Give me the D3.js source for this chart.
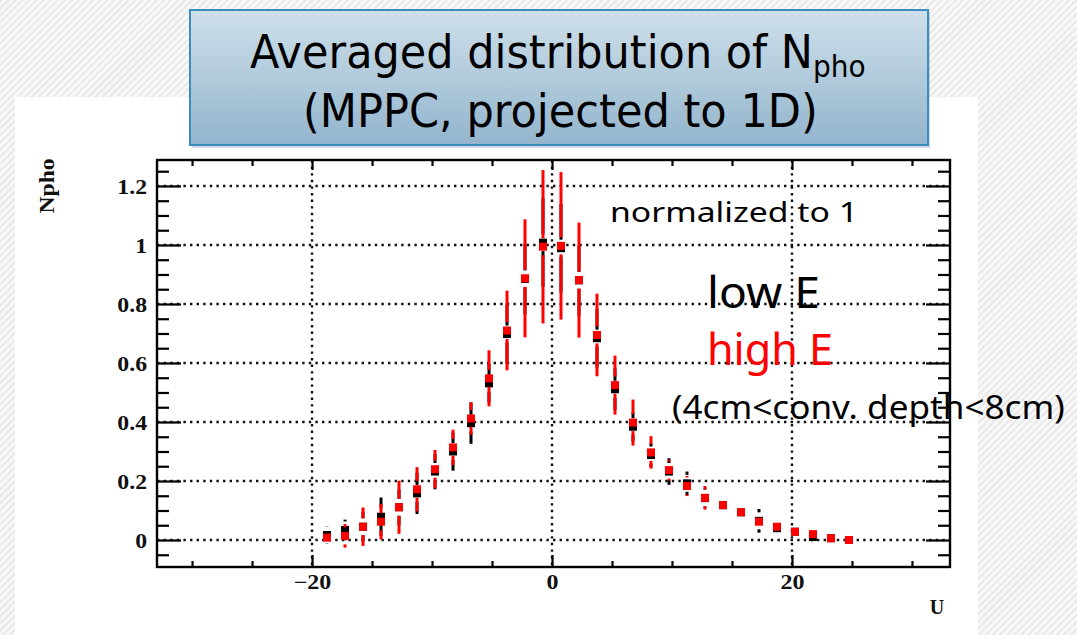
<!DOCTYPE html>
<html><head><meta charset="utf-8">
<script src="https://cdn.jsdelivr.net/npm/d3@7"></script>
<style>html,body{margin:0;padding:0;background:#fff;overflow:hidden}svg{display:block}</style>
</head><body>
<svg id="chart" width="1077" height="635"></svg>
<script>
// ---------- data ----------
const binCenters = [-18.75,-17.25,-15.75,-14.25,-12.75,-11.25,-9.75,-8.25,-6.75,-5.25,-3.75,-2.25,-0.75,0.75,2.25,3.75,5.25,6.75,8.25,9.75,11.25,12.75,14.25,15.75,17.25,18.75,20.25,21.75,23.25,24.75];
const lowE     = [0.017,0.034,0.045,0.079,0.111,0.158,0.232,0.300,0.396,0.531,0.698,0.885,1.008,0.989,0.880,0.684,0.511,0.384,0.288,0.232,0.192,0.142,0.118,0.094,0.065,0.040,0.028,0.010,0.006,0.000];
const lowEErr  = [0.030,0.035,0.050,0.065,0.060,0.070,0.060,0.065,0.070,0.065,0.100,0.120,0.150,0.150,0.120,0.100,0.070,0.050,0.040,0.045,0.040,0.033,0.010,0.010,0.040,0.026,0.010,0.010,0.005,0.005];
const highE    = [0.008,0.014,0.045,0.062,0.111,0.172,0.240,0.314,0.412,0.548,0.710,0.887,0.994,0.997,0.881,0.695,0.525,0.398,0.297,0.237,0.183,0.143,0.118,0.094,0.062,0.045,0.028,0.020,0.006,0.000];
const highEErr = [0.015,0.040,0.065,0.060,0.090,0.075,0.065,0.060,0.055,0.095,0.135,0.200,0.260,0.250,0.195,0.140,0.100,0.078,0.055,0.035,0.034,0.040,0.010,0.010,0.010,0.010,0.010,0.010,0.005,0.005];
const xMajorTicks = [-20, 0, 20];
const xTickLabels = ["\u221220", "0", "20"];
const xMinorTicks = [-30,-25,-15,-10,-5,5,10,15,25,30];
const yMajorTicks = [0, 0.2, 0.4, 0.6, 0.8, 1, 1.2];
const yTickLabels = ["0", "0.2", "0.4", "0.6", "0.8", "1", "1.2"];
const yMinorTicks = [-0.05,0.05,0.1,0.15,0.25,0.3,0.35,0.45,0.5,0.55,0.65,0.7,0.75,0.85,0.9,0.95,1.05,1.1,1.15,1.25];
const xDomain = [-32.92, 33.17];
const yDomain = [-0.0915, 1.288];
const titleLine1 = "Averaged distribution of N";
const titleSub = "pho";
const titleLine2 = "(MPPC, projected to 1D)";
const xAxisTitle = "U";
const yAxisTitle = "Npho";
const notes = ["normalized to 1", "low E", "high E", "(4cm<conv. depth<8cm)"];

// ---------- layout ----------
const svg = d3.select("#chart");
const P = {left:157, right:950, top:160, bottom:567};
const x = d3.scaleLinear().domain(xDomain).range([P.left, P.right]);
const y = d3.scaleLinear().domain(yDomain).range([P.bottom, P.top]);

// fit text horizontally to a target width
function fitWidth(sel, x0, w) {
  const bw = sel.node().getBBox().width;
  const s = w / bw;
  sel.attr("transform", `translate(${x0},0) scale(${s},1) translate(${-x0},0)`);
}

// background hatch
const defs = svg.append("defs");
const pat = defs.append("pattern").attr("id","hatch").attr("patternUnits","userSpaceOnUse")
  .attr("width",5).attr("height",5).attr("patternTransform","rotate(45)");
pat.append("rect").attr("width",5).attr("height",5).attr("fill","#f8f8f8");
pat.append("line").attr("x1",1).attr("y1",0).attr("x2",1).attr("y2",5).attr("stroke","#e3e3e3").attr("stroke-width",1.5);
svg.append("rect").attr("width",1077).attr("height",635).attr("fill","url(#hatch)");

// white panel
svg.append("rect").attr("x",15).attr("y",97).attr("width",963).attr("height",540).attr("fill","#fff");

// title box
const grad = defs.append("linearGradient").attr("id","tg").attr("x1",0).attr("y1",0).attr("x2",0).attr("y2",1);
grad.append("stop").attr("offset","0%").attr("stop-color","#cfe0ea");
grad.append("stop").attr("offset","100%").attr("stop-color","#93b5cd");
svg.append("rect").attr("x",192).attr("y",12).attr("width",738).attr("height",136).attr("fill","#6a8ea8").attr("opacity",0.3);
svg.append("rect").attr("x",190).attr("y",10).attr("width",738).attr("height",135)
  .attr("fill","url(#tg)").attr("stroke","#3a8dbf").attr("stroke-width",2);
const tfont = "'DejaVu Sans Condensed','DejaVu Sans',sans-serif";
const t1 = svg.append("text").attr("x",250).attr("y",68)
  .attr("font-family",tfont).attr("font-size",46).attr("fill","#000");
t1.append("tspan").text(titleLine1);
t1.append("tspan").attr("font-size",30).attr("dy",9).text(titleSub);
fitWidth(t1, 250, 616);
const t2 = svg.append("text").attr("x",303).attr("y",127)
  .attr("font-family",tfont).attr("font-size",46).attr("fill","#000")
  .text(titleLine2);
fitWidth(t2, 303, 515);

// plot area
const plot = svg.append("g");

// grid (dotted)
const dash = "2.4,4.2";
plot.selectAll(".gy").data(yMajorTicks).enter().append("line")
  .attr("x1",P.left).attr("x2",P.right).attr("y1",d=>y(d)).attr("y2",d=>y(d))
  .attr("stroke","#111").attr("stroke-width",2.4).attr("stroke-dasharray",dash);
plot.selectAll(".gx").data(xMajorTicks).enter().append("line")
  .attr("y1",P.top).attr("y2",P.bottom).attr("x1",d=>x(d)).attr("x2",d=>x(d))
  .attr("stroke","#111").attr("stroke-width",2.4).attr("stroke-dasharray",dash);

// axes
const serif = "'Liberation Serif','Times New Roman',serif";
function styleAxis(g) {
  g.select(".domain").remove();
  g.selectAll(".tick line").attr("stroke","#000").attr("stroke-width",2.2);
}
// bottom
const gb = plot.append("g").attr("transform",`translate(0,${P.bottom})`);
gb.append("g").call(d3.axisBottom(x).tickValues(xMinorTicks).tickSizeInner(-6).tickSizeOuter(0).tickFormat("")).call(styleAxis);
const gbM = gb.append("g").call(d3.axisBottom(x).tickValues(xMajorTicks).tickSizeInner(-12).tickSizeOuter(0).tickPadding(8)
  .tickFormat((d,i)=>xTickLabels[i])).call(styleAxis);
gbM.selectAll("text").attr("font-family",serif).attr("font-weight","bold").attr("font-size",20).attr("fill","#111")
  .each(function(){ const s=d3.select(this); const w=this.getComputedTextLength(); s.attr("textLength",w*1.2).attr("lengthAdjust","spacingAndGlyphs"); });
// top
const gt = plot.append("g").attr("transform",`translate(0,${P.top})`);
gt.append("g").call(d3.axisTop(x).tickValues(xMinorTicks).tickSizeInner(-6).tickSizeOuter(0).tickFormat("")).call(styleAxis);
gt.append("g").call(d3.axisTop(x).tickValues(xMajorTicks).tickSizeInner(-10).tickSizeOuter(0).tickFormat("")).call(styleAxis);
// left
const gl = plot.append("g").attr("transform",`translate(${P.left},0)`);
gl.append("g").call(d3.axisLeft(y).tickValues(yMinorTicks).tickSizeInner(-12).tickSizeOuter(0).tickFormat("")).call(styleAxis);
const glM = gl.append("g").call(d3.axisLeft(y).tickValues(yMajorTicks).tickSizeInner(-24).tickSizeOuter(0).tickPadding(10)
  .tickFormat((d,i)=>yTickLabels[i])).call(styleAxis);
glM.selectAll("text").attr("font-family",serif).attr("font-weight","bold").attr("font-size",22).attr("fill","#111")
  .each(function(){ const s=d3.select(this); const w=this.getComputedTextLength(); s.attr("textLength",w*1.08).attr("lengthAdjust","spacingAndGlyphs"); });
// right
const gr = plot.append("g").attr("transform",`translate(${P.right},0)`);
gr.append("g").call(d3.axisRight(y).tickValues(yMinorTicks).tickSizeInner(-12).tickSizeOuter(0).tickFormat("")).call(styleAxis);
gr.append("g").call(d3.axisRight(y).tickValues(yMajorTicks).tickSizeInner(-24).tickSizeOuter(0).tickFormat("")).call(styleAxis);

// frame
plot.append("rect").attr("x",P.left).attr("y",P.top).attr("width",P.right-P.left).attr("height",P.bottom-P.top)
  .attr("fill","none").attr("stroke","#000").attr("stroke-width",2.4);

// axis titles
svg.append("text").attr("transform","translate(54,186) rotate(-90)").attr("text-anchor","middle")
  .attr("font-family",serif).attr("font-weight","bold").attr("font-size",21).attr("fill","#111")
  .attr("textLength",55).attr("lengthAdjust","spacingAndGlyphs").text(yAxisTitle);
svg.append("text").attr("x",937).attr("y",614).attr("text-anchor","middle")
  .attr("font-family",serif).attr("font-weight","bold").attr("font-size",20).attr("fill","#111").text(xAxisTitle);

// data series
const series = [
  {vals: lowE, errs: lowEErr, color: "#000"},
  {vals: highE, errs: highEErr, color: "#ff0000"}
];
const gap = 8.5, ms = 8;
series.forEach(s => {
  const data = binCenters.map((c,i)=>({c, v:s.vals[i], e:s.errs[i]}));
  const g = plot.append("g");
  data.forEach(d => {
    const cx = x(d.c), cy = y(d.v), yt = y(d.v + d.e), yb = y(d.v - d.e);
    if (cy - yt > gap) g.append("line").attr("x1",cx).attr("x2",cx).attr("y1",yt).attr("y2",cy-gap)
      .attr("stroke",s.color).attr("stroke-width",3);
    if (yb - cy > gap) g.append("line").attr("x1",cx).attr("x2",cx).attr("y1",cy+gap).attr("y2",yb)
      .attr("stroke",s.color).attr("stroke-width",3);
  });
  g.selectAll("rect").data(data).enter().append("rect")
    .attr("x",d=>x(d.c)-ms/2).attr("y",d=>y(d.v)-ms/2).attr("width",ms).attr("height",ms).attr("fill",s.color);
});

// annotations
const sans = "'Noto Sans','Open Sans',sans-serif";
const n1 = svg.append("text").attr("x",610).attr("y",222).attr("font-family",sans).attr("font-size",28).attr("fill","#000").text(notes[0]);
fitWidth(n1, 610, 248);
const n2 = svg.append("text").attr("x",707).attr("y",308).attr("font-family",sans).attr("font-size",43).attr("fill","#000").text(notes[1]);
fitWidth(n2, 707, 113);
const n3 = svg.append("text").attr("x",707).attr("y",365).attr("font-family",sans).attr("font-size",43).attr("fill","#ff0000").text(notes[2]);
fitWidth(n3, 707, 126);
const n4 = svg.append("text").attr("x",672).attr("y",419).attr("font-family",sans).attr("font-size",32).attr("fill","#000").text(notes[3]);
fitWidth(n4, 672, 393);
</script>
</body></html>
